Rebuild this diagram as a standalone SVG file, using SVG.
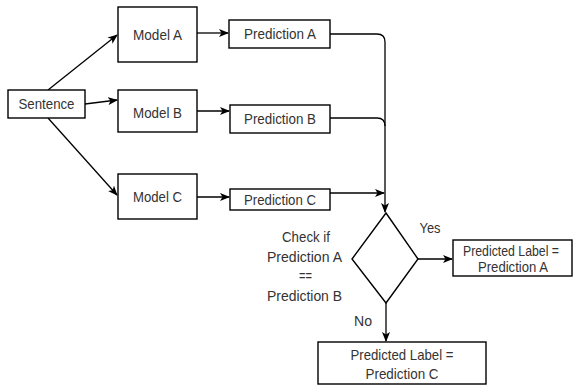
<svg xmlns="http://www.w3.org/2000/svg" width="573" height="385" viewBox="0 0 573 385">
<defs>
<style>
.box{fill:#fff;stroke:#000;stroke-width:1.4}
.t{font-family:"Liberation Sans",Arial,sans-serif;font-size:15px;fill:#333;text-anchor:middle}
.s{font-size:14px}
.c{fill:none;stroke:#000;stroke-width:1.3}
</style>
<marker id="ah" viewBox="0 0 10 8" refX="9" refY="4" markerWidth="10" markerHeight="8" markerUnits="userSpaceOnUse" orient="auto">
<path d="M0,0 L10,4 L0,8 L2.5,4 Z" fill="#000"/>
</marker>
</defs>
<rect width="573" height="385" fill="#fff"/>
<g id="connectors">
<path class="c" d="M48,90 L117,35" marker-end="url(#ah)"/>
<path class="c" d="M85,104 L117,100" marker-end="url(#ah)"/>
<path class="c" d="M48,118 L117,195" marker-end="url(#ah)"/>
<path class="c" d="M197,33 L228,33" marker-end="url(#ah)"/>
<path class="c" d="M196,111 L229,111" marker-end="url(#ah)"/>
<path class="c" d="M196,197 L229,197" marker-end="url(#ah)"/>
<path class="c" d="M330,34 L377,34 Q385,34 385,42 L385,212" marker-end="url(#ah)"/>
<path class="c" d="M330,118 L377,118 Q385,118 385,126"/>
<path class="c" d="M330,193 L384,193" marker-end="url(#ah)"/>
<path class="c" d="M418,259 L452,259" marker-end="url(#ah)"/>
<path class="c" d="M386,303 L386,341" marker-end="url(#ah)"/>
<text class="t" x="430" y="233" textLength="21" lengthAdjust="spacingAndGlyphs">Yes</text>
<text class="t" x="363" y="326" textLength="18" lengthAdjust="spacingAndGlyphs">No</text>
</g>
<g id="sentence">
<rect class="box" x="8" y="90" width="77" height="28"/>
<text class="t" x="46.5" y="109" textLength="56" lengthAdjust="spacingAndGlyphs">Sentence</text>
</g>
<g id="modelA">
<rect class="box" x="118" y="7" width="79" height="55"/>
<text class="t" x="157.5" y="40" textLength="49" lengthAdjust="spacingAndGlyphs">Model A</text>
</g>
<g id="modelB">
<rect class="box" x="118" y="90" width="79" height="42"/>
<text class="t" x="157.5" y="118" textLength="49" lengthAdjust="spacingAndGlyphs">Model B</text>
</g>
<g id="modelC">
<rect class="box" x="118" y="174" width="79" height="45"/>
<text class="t" x="157.5" y="202" textLength="49" lengthAdjust="spacingAndGlyphs">Model C</text>
</g>
<g id="predA">
<rect class="box" x="229" y="20" width="101" height="28"/>
<text class="t" x="280" y="39" textLength="72" lengthAdjust="spacingAndGlyphs">Prediction A</text>
</g>
<g id="predB">
<rect class="box" x="230" y="105" width="100" height="28"/>
<text class="t" x="280" y="124" textLength="72" lengthAdjust="spacingAndGlyphs">Prediction B</text>
</g>
<g id="predC">
<rect class="box" x="230" y="189" width="100" height="21"/>
<text class="t" x="280" y="205" textLength="72" lengthAdjust="spacingAndGlyphs">Prediction C</text>
</g>
<g id="check">
<polygon class="box" points="386,213 418,259 386,303 352,259"/>
<text class="t" x="306" y="242" textLength="48" lengthAdjust="spacingAndGlyphs">Check if</text>
<text class="t" x="304.5" y="262" textLength="75" lengthAdjust="spacingAndGlyphs">Prediction A</text>
<text class="t" x="305.5" y="281" textLength="13" lengthAdjust="spacingAndGlyphs">==</text>
<text class="t" x="304.5" y="301" textLength="75" lengthAdjust="spacingAndGlyphs">Prediction B</text>
</g>
<g id="labelA">
<rect class="box" x="453" y="240" width="119" height="36"/>
<text class="t s" x="511" y="255.5" textLength="96" lengthAdjust="spacingAndGlyphs">Predicted Label =</text>
<text class="t s" x="513" y="272" textLength="70" lengthAdjust="spacingAndGlyphs">Prediction A</text>
</g>
<g id="labelC">
<rect class="box" x="318" y="342" width="168" height="42"/>
<text class="t" x="402" y="360" textLength="103" lengthAdjust="spacingAndGlyphs">Predicted Label =</text>
<text class="t" x="402" y="379" textLength="73" lengthAdjust="spacingAndGlyphs">Prediction C</text>
</g>
</svg>
